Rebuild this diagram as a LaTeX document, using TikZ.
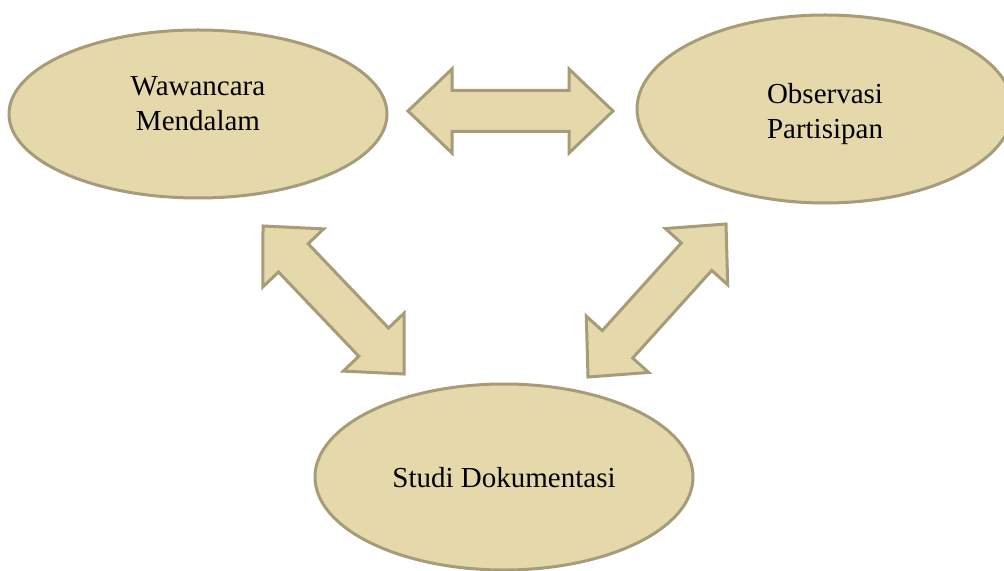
\documentclass[tikz,border=0pt]{standalone}
\usepackage{fontspec}
\setmainfont{Liberation Serif}
\usetikzlibrary{shapes.geometric}
\usetikzlibrary{calc}
\definecolor{cream}{HTML}{E5D8AB}
\definecolor{khaki}{HTML}{A69C7A}

% block arrow with two heads between two named coordinates
\newcommand{\blockarrow}[2]{%
\path ($(#1)!22pt!(#2)$) coordinate (#1h) ($(#2)!22pt!(#1)$) coordinate (#2h);
\draw[barrow] (#1) -- ($(#1h)!21pt!90:(#2)$) -- ($(#1h)!10.25pt!90:(#2)$)
 -- ($(#2h)!10.25pt!-90:(#1)$) -- ($(#2h)!21pt!-90:(#1)$) -- (#2)
 -- ($(#2h)!21pt!90:(#1)$) -- ($(#2h)!10.25pt!90:(#1)$)
 -- ($(#1h)!10.25pt!-90:(#2)$) -- ($(#1h)!21pt!-90:(#2)$) -- cycle;}

\begin{document}
\begin{tikzpicture}
[x=0.5pt,y=-0.5pt,
bubble/.style={ellipse,draw=khaki,fill=cream,line width=1.5pt,inner sep=0pt},
txt/.style={inner sep=0pt,align=center,font=\fontsize{14.5}{17.5}\selectfont},
barrow/.style={draw=khaki,fill=cream,line width=1.5pt,line join=miter}]
\useasboundingbox (0,0) rectangle (1004,571);
\clip (0,0) rectangle (1004,571);

\node[bubble,minimum width=189pt,minimum height=84pt] (wawancara) at (198,114) {};
\node[bubble,minimum width=188pt,minimum height=94pt] (observasi) at (825,109) {};
\node[bubble,minimum width=189pt,minimum height=93pt] (studi) at (504,477) {};

\node[txt] (wawancaratxt) at (198,103.5) {Wawancara\\Mendalam};
\node[txt] (observasitxt) at (825,114) {Observasi\\Partisipan};
\node[txt] (studitxt) at (504,478) {Studi Dokumentasi};

\coordinate (wo1) at (408,111);
\coordinate (wo2) at (613,111);
\coordinate (ws1) at (263,226);
\coordinate (ws2) at (404,374);
\coordinate (os1) at (726,224);
\coordinate (os2) at (588,377);

\blockarrow{wo1}{wo2}
\blockarrow{ws1}{ws2}
\blockarrow{os1}{os2}
\end{tikzpicture}
\end{document}
